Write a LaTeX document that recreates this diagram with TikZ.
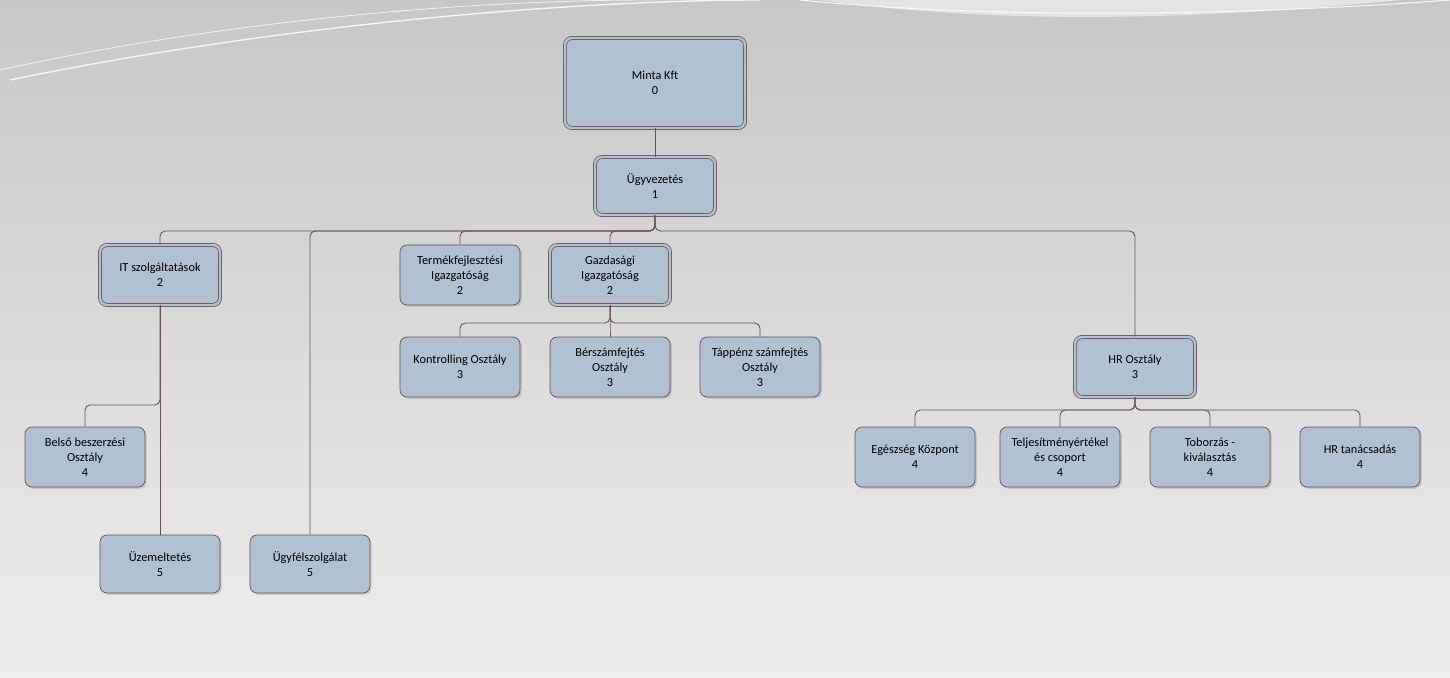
\documentclass[tikz,border=0pt]{standalone}
\usepackage{fontspec}
\setmainfont{Carlito}
\usetikzlibrary{shadows}
\begin{document}
\begin{tikzpicture}[x=0.02cm, y=-0.02cm,
  box/.style={draw=edge, fill=boxfill, rounded corners=4pt, minimum width=2.4cm,
    minimum height=1.2cm, align=center, font=\fontsize{7}{8.6}\selectfont,
    drop shadow={shadow xshift=1pt, shadow yshift=-1pt, opacity=0.3}},
  parent/.style={box, double=boxfill, double distance=1.4pt},
  link/.style={draw=edge, rounded corners=3pt, line width=0.5pt}]

\definecolor{edge}{RGB}{105,82,78}
\definecolor{boxfill}{RGB}{176,194,210}

% background
\shade[top color=black!22, bottom color=black!7] (0,0) rectangle (1450,678);
\useasboundingbox (0,0) rectangle (1450,678);
\draw[white, line width=0.8pt, opacity=0.8] (10,80) .. controls (300,20) and (600,0) .. (760,0);
\draw[white, line width=0.5pt, opacity=0.7] (0,70) .. controls (250,15) and (500,0) .. (650,0);
\draw[white, line width=0.6pt, opacity=0.8] (800,0) .. controls (1000,20) and (1250,15) .. (1450,0);
\fill[white, opacity=0.5] (820,0) .. controls (1000,25) and (1200,20) .. (1400,0) -- cycle;

% nodes
\node[parent, minimum width=3.6cm, minimum height=1.8cm] (minta) at (655,83) {Minta Kft\\0};
\node[parent, minimum height=1.16cm] (ugy) at (655,186) {Ügyvezetés\\1};
\node[parent] (it) at (160,275) {IT szolgáltatások\\2};
\node[box] (termek) at (460,275) {Termékfejlesztési\\Igazgatóság\\2};
\node[parent] (gazd) at (610,275) {Gazdasági\\Igazgatóság\\2};
\node[box] (kontr) at (460,367) {Kontrolling Osztály\\3};
\node[box] (bersz) at (610,367) {Bérszámfejtés\\Osztály\\3};
\node[box] (tapp) at (760,367) {Táppénz számfejtés\\Osztály\\3};
\node[parent] (hr) at (1135,367) {HR Osztály\\3};
\node[box] (belso) at (85,457) {Belső beszerzési\\Osztály\\4};
\node[box, minimum height=1.16cm] (uzem) at (160,564) {Üzemeltetés\\5};
\node[box, minimum height=1.16cm] (ugyf) at (310,564) {Ügyfélszolgálat\\5};
\node[box] (egesz) at (915,457) {Egészség Központ\\4};
\node[box] (telj) at (1060,457) {Teljesítményértékel\\és csoport\\4};
\node[box] (tob) at (1210,457) {Toborzás -\\kiválasztás\\4};
\node[box] (hrtan) at (1360,457) {HR tanácsadás\\4};

\coordinate (bus1) at (0,231);
\coordinate (bus2) at (0,323);
\coordinate (bus3) at (0,410);
\coordinate (bus4) at (0,405);

% connectors
\begin{scope}[on background layer/.style={}]
\draw[link] (minta) -- (ugy);
\foreach \n in {it,ugyf,termek,gazd,hr}
  \draw[link] (ugy.south) -- (ugy.south |- bus1) -| (\n.north);
\foreach \n in {kontr,bersz,tapp}
  \draw[link] (gazd.south) -- (gazd.south |- bus2) -| (\n.north);
\foreach \n in {egesz,telj,tob,hrtan}
  \draw[link] (hr.south) -- (hr.south |- bus3) -| (\n.north);
\draw[link] (it.south) -- (it.south |- bus4) -| (belso.north);
\draw[link] (it) -- (uzem);
\end{scope}
\end{tikzpicture}
\end{document}
